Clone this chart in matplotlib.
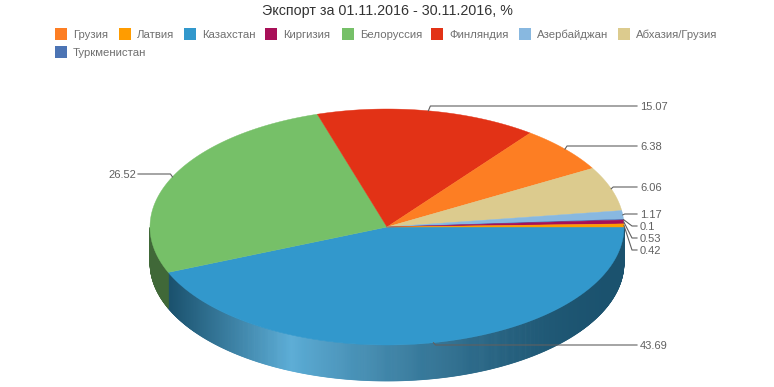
import numpy as np
import matplotlib
matplotlib.use('Agg')
import matplotlib.pyplot as plt
from matplotlib.patches import Rectangle

plt.rcParams['font.family'] = ['Liberation Sans', 'DejaVu Sans']

# data, clockwise from the east
names = ['Казахстан', 'Белоруссия', 'Финляндия', 'Грузия', 'Абхазия/Грузия',
         'Азербайджан', 'Туркменистан', 'Киргизия', 'Латвия']
values = [43.69, 26.52, 15.07, 6.38, 6.06, 1.17, 0.1, 0.53, 0.42]
labels = ['43.69', '26.52', '15.07', '6.38', '6.06', '1.17', '0.1', '0.53', '0.42']
colors = ['#3298cc', '#76c068', '#e23216', '#fd7e23', '#dccb8e',
          '#88b8e0', '#4c74b4', '#a81058', '#ff9c00']
legend_order = ['Грузия', 'Латвия', 'Казахстан', 'Киргизия', 'Белоруссия',
                'Финляндия', 'Азербайджан', 'Абхазия/Грузия', 'Туркменистан']
label_y = [345, 174, 106, 146, 187, 214, 226, 238, 250]
label_x = [640, 136, 640, 640, 640, 640, 640, 640, 640]
legend_x = [55, 119, 184, 265, 342, 431, 519, 618, 55]
legend_y = [34, 34, 34, 34, 34, 34, 34, 34, 52]

cx, cy, rx, ry, depth = 387, 227, 237, 118, 36


def shade(col, t):
    # t 0 -> darkest, 1 -> lightest
    c = np.array(matplotlib.colors.to_rgb(col))
    dark = c * 0.54
    light = c + (1 - c) * 0.2
    return dark + (light - dark) * t


def wall_light(x):
    if x < 290:
        return np.clip((x - 170) / 120, 0, 1)
    return np.clip((610 - x) / 320, 0, 1) ** 1.6


fig = plt.figure(figsize=(7.74, 3.87), dpi=100)
ax = fig.add_axes([0, 0, 1, 1])
ax.set_xlim(0, 774)
ax.set_ylim(387, 0)
ax.axis('off')

shares = np.array(values) / sum(values) * 360
ends = np.cumsum(shares)
starts = ends - shares

# side wall, only the front half shows
for s, e, col in zip(starts, ends, colors):
    lo, hi = s, min(e, 180)
    if lo >= 180:
        continue
    grid = np.arange(lo, hi + 0.25, 0.25)
    for a0, a1 in zip(grid[:-1], grid[1:]):
        t = np.radians([a0, a1, a1, a0])
        xs = cx + rx * np.cos(t)
        ys = cy + ry * np.sin(t) + np.array([0, 0, depth, depth])
        c = shade(col, wall_light(xs.mean()))
        ax.fill(xs, ys, facecolor=c, edgecolor=c, lw=0.5)

# top face
for s, e, col in zip(starts, ends, colors):
    t = np.radians(np.linspace(s, e, max(int(e - s) * 2, 4)))
    xs = np.r_[cx, cx + rx * np.cos(t)]
    ys = np.r_[cy, cy + ry * np.sin(t)]
    ax.fill(xs, ys, color=col, lw=0.3, zorder=3)

# leader lines and value labels
for s, e, txt, lx, ly in zip(starts, ends, labels, label_x, label_y):
    m = np.radians((s + e) / 2)
    px = cx + rx * np.cos(m)
    py = cy + ry * np.sin(m)
    if lx > cx:
        ex = px + 2 if abs(ly - py) < 5 else 632
        ax.plot([px, ex, lx - 3], [py, ly, ly], color='#606060', lw=0.8, zorder=4)
        ax.text(lx, ly + 0.7, txt, color='#606060', fontsize=8, va='center', ha='left', zorder=5)
    else:
        ax.plot([px, px - 2, lx + 2], [py, ly, ly], color='#606060', lw=0.8, zorder=4)
        ax.text(lx, ly + 0.7, txt, color='#606060', fontsize=8, va='center', ha='right', zorder=5)

ax.text(387, 11, 'Экспорт за 01.11.2016 - 30.11.2016, %', fontsize=10.3, color='#333333',
        ha='center', va='center')

for nm, x, y in zip(legend_order, legend_x, legend_y):
    col = colors[names.index(nm)]
    ax.add_patch(Rectangle((x, y - 6), 12, 12, color=col, lw=0))
    ax.text(x + 18, y + 0.7, nm, fontsize=8.2, color='#707070', ha='left', va='center')

fig.savefig('out.png', dpi=100)
